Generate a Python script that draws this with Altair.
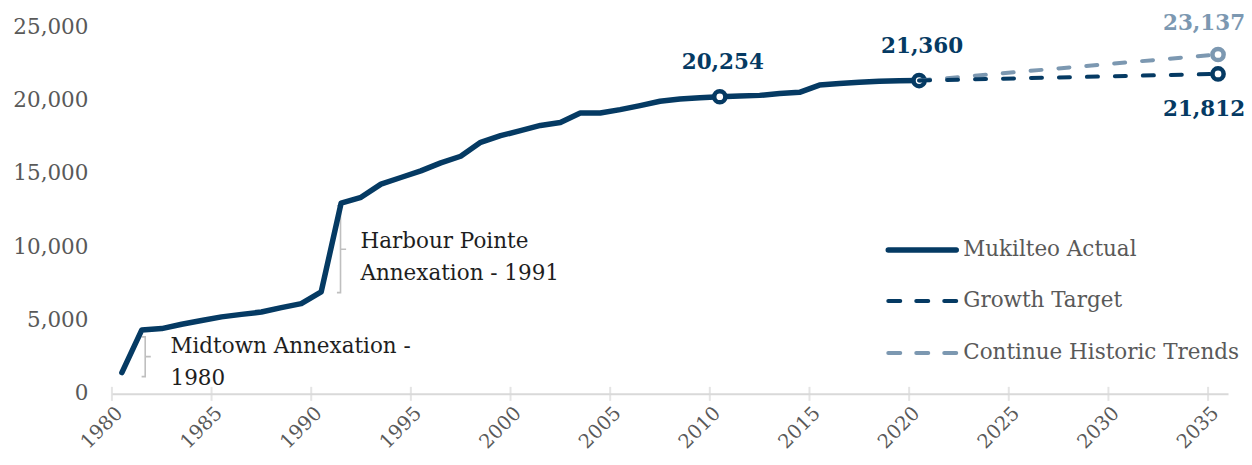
import altair as alt
import pandas as pd

NAVY = "#053A63"
LIGHT = "#7C98B1"
GRAY_TXT = "#595959"
AXIS_GRAY = "#D9D9D9"
FONT = "DejaVu Serif"
FS = 21.5

# ---- data ----
years = list(range(1980, 2021))
actual = [1450, 4360, 4450, 4750, 5000, 5250, 5420, 5580, 5880, 6150, 6950,
          13000, 13400, 14300, 14750, 15200, 15750, 16200, 17150, 17600, 17950,
          18300, 18500, 19150, 19150, 19380, 19650, 19950, 20100, 20180, 20254,
          20300, 20350, 20480, 20560, 21050, 21160, 21250, 21320, 21340, 21360]
proj_years = [2020, 2035]
growth_target = [21360, 21812]
historic_trend = [21360, 23137]
marker_years = [2010, 2020]
tick_years = list(range(1980, 2036, 5))
y_ticks = [0, 5000, 10000, 15000, 20000, 25000]
legend_names = ["Mukilteo Actual", "Growth Target", "Continue Historic Trends"]
legend_colors = [NAVY, NAVY, LIGHT]

# annotations (data coordinates)
annot_lines = ["Midtown Annexation -", "1980", "Harbour Pointe", "Annexation - 1991"]
annot_x = [1982.94, 1982.94, 1992.47, 1992.47]
annot_y = [3208, 981, 10361, 8202]
# brackets: x, bottom, mid, top
br_x = [1981.67, 1991.47]
br_bottom = [1178, 6900]
br_mid = [2541, 9857]
br_top = [3883, 12827]

# ---- tables ----
df_actual = pd.DataFrame({"year": years, "value": actual})
df_growth = pd.DataFrame({"year": proj_years, "value": growth_target})
df_trend = pd.DataFrame({"year": proj_years, "value": historic_trend})
df_marks_actual = df_actual[df_actual.year.isin(marker_years)]
df_ticks = pd.DataFrame({"xpos": tick_years, "value": [0] * len(tick_years)})
df_annot = pd.DataFrame({"xpos": annot_x, "value": annot_y, "text": annot_lines})

br_rows = []
for i, (bx, b0, bm, b1) in enumerate(zip(br_x, br_bottom, br_mid, br_top)):
    pts = [(bx - 0.18, b1), (bx, b1), (bx, bm), (bx + 0.28, bm), (bx, bm), (bx, b0), (bx - 0.18, b0)]
    for k, (px, py) in enumerate(pts):
        br_rows.append({"id": i, "seq": k, "xpos": px, "value": py})
df_br = pd.DataFrame(br_rows)

xscale = alt.Scale(domain=[1980, 2036], nice=False, zero=False)
yscale = alt.Scale(domain=[0, 25000], nice=False)
xaxis = alt.Axis(values=tick_years, labelExpr="toString(datum.value)", title=None)
yaxis = alt.Axis(values=y_ticks, title=None,
                 labelExpr="datum.value >= 1000 ? floor(datum.value / 1000) + ',' + "
                           "substring(toString(1000 + datum.value % 1000), 1) : toString(datum.value)")


def X():
    return alt.X("xpos:Q", scale=xscale, axis=xaxis)


def Y():
    return alt.Y("value:Q", scale=yscale, axis=yaxis)


def shifted(df):
    return alt.Chart(df).transform_calculate(xpos="datum.year + 0.5")


tick_layer = alt.Chart(df_ticks).mark_tick(orient="vertical", size=14, thickness=2,
                                           color=AXIS_GRAY).encode(x=X(), y=Y())

actual_line = shifted(df_actual).mark_line(color=NAVY, strokeWidth=5.5, strokeCap="round",
                                           strokeJoin="round").encode(x=X(), y=Y())
pt_kw = dict(shape="circle", size=125, filled=True, fill="white", strokeWidth=4.5, opacity=1)
actual_marks = shifted(df_marks_actual).mark_point(stroke=NAVY, **pt_kw).encode(x=X(), y=Y())
trend_line = shifted(df_trend).mark_line(color=LIGHT, strokeWidth=4, strokeDash=[11, 17],
                                         strokeCap="round").encode(x=X(), y=Y())
growth_line = shifted(df_growth).mark_line(color=NAVY, strokeWidth=4, strokeDash=[11, 17],
                                           strokeCap="round").encode(x=X(), y=Y())
trend_mark = shifted(df_trend[df_trend.year == 2035]).mark_point(stroke=LIGHT, **pt_kw).encode(
    x=X(), y=Y())
growth_mark = shifted(df_growth[df_growth.year == 2035]).mark_point(stroke=NAVY, **pt_kw).encode(
    x=X(), y=Y())

# value labels
label_specs = [
    (df_actual[df_actual.year.isin([2010, 2020])], NAVY, 3, -34),
    (df_trend[df_trend.year == 2035], LIGHT, -14, -31),
    (df_growth[df_growth.year == 2035], NAVY, -14, 36),
]
label_layers = []
for d, col, dx, dy in label_specs:
    label_layers.append(
        shifted(d).transform_calculate(lbl="format(datum.value, ',')").mark_text(
            font=FONT, fontSize=FS, fontWeight="bold", color=col, dx=dx, dy=dy,
            align="center", baseline="middle").encode(x=X(), y=Y(), text="lbl:N"))

annot_layer = alt.Chart(df_annot).mark_text(font=FONT, fontSize=FS, color="#1E1E1E",
                                            align="left", baseline="middle").encode(
    x=X(), y=Y(), text="text:N")
bracket_layer = alt.Chart(df_br).mark_line(color="#BFBFBF", strokeWidth=1.6).encode(
    x=X(), y=Y(), detail="id:N", order="seq:Q")

# legend (drawn as marks, one row per series)
legend_layers = []
leg_rows_y = [223, 274, 326]
leg_dash = [[1, 0], [12, 16], [12, 16]]
leg_width = [5.5, 4, 4]
for name, col, ly, dash, sw in zip(legend_names, legend_colors, leg_rows_y, leg_dash, leg_width):
    d = pd.DataFrame({"name": [name]})
    legend_layers.append(alt.Chart(d).mark_rule(strokeCap="round", color=col, strokeDash=dash,
                                                strokeWidth=sw).encode(
        x=alt.value(777), x2=alt.value(845), y=alt.value(ly)))
    legend_layers.append(alt.Chart(d).mark_text(font=FONT, fontSize=FS, color=GRAY_TXT,
                                                align="left", baseline="middle").encode(
        x=alt.value(852), y=alt.value(ly), text="name:N"))

chart = alt.layer(tick_layer, bracket_layer, annot_layer, actual_line, actual_marks,
                  trend_line, growth_line, trend_mark, growth_mark, *label_layers,
                  *legend_layers).properties(
    width=1117, height=367,
    autosize=alt.AutoSizeParams(type="none"),
    padding={"left": 104, "top": 19, "right": 16, "bottom": 59},
    background="white",
).configure_view(stroke=None).configure_axisX(
    grid=False, ticks=False, tickSize=0, domainColor=AXIS_GRAY, domainWidth=2,
    labelAngle=-45, labelAlign="right", labelBaseline="middle", labelPadding=16,
    labelOffset=7, labelColor=GRAY_TXT, labelFont=FONT, labelFontSize=19.5,
).configure_axisY(
    grid=False, ticks=False, tickSize=0, domain=False, labelPadding=24,
    labelColor=GRAY_TXT, labelFont=FONT, labelFontSize=FS,
)

chart.save("out.html", embed_options={"renderer": "svg", "actions": False})
